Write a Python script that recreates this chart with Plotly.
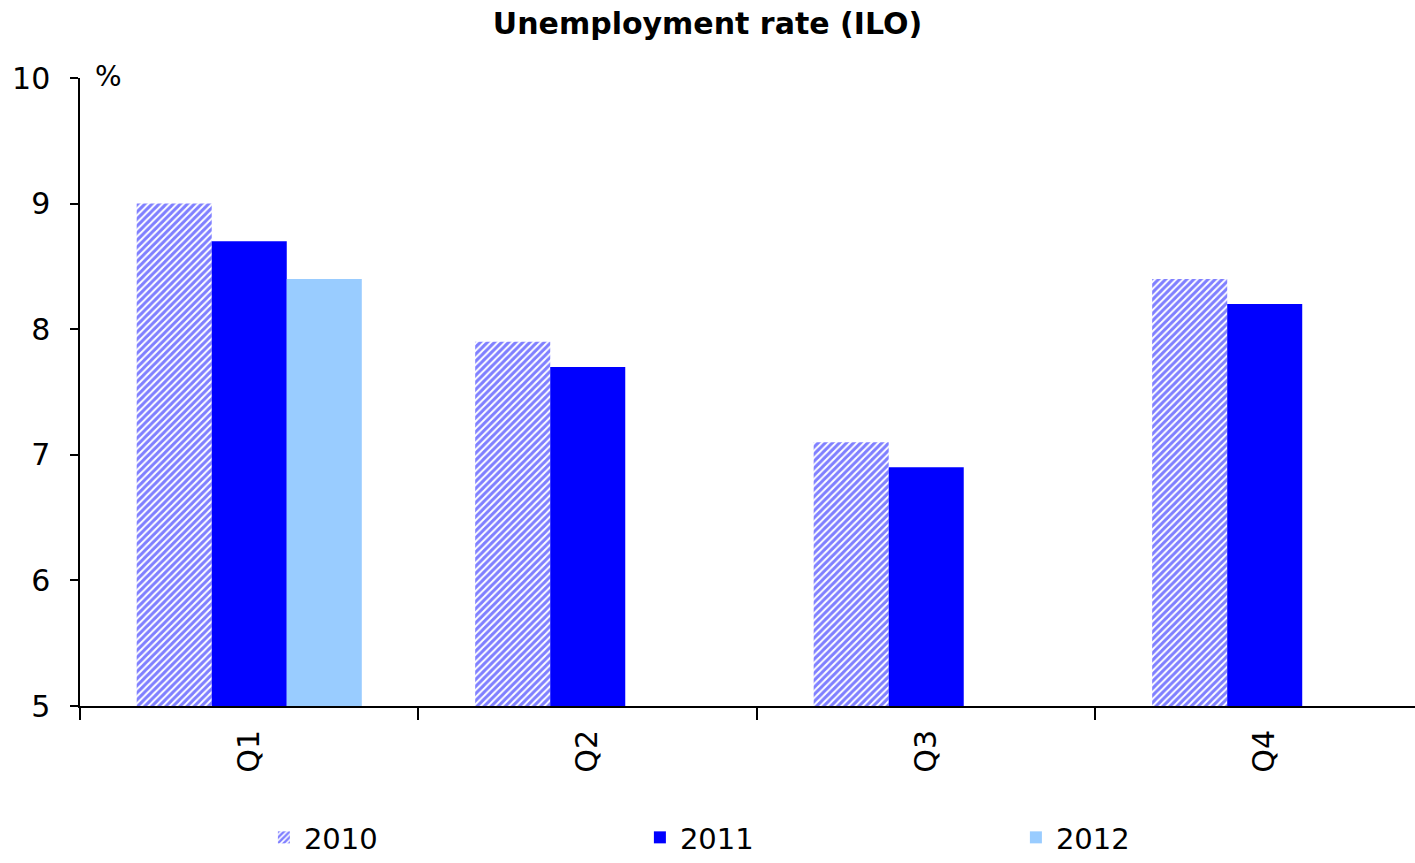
import plotly.graph_objects as go

quarters = ["Q1", "Q2", "Q3", "Q4"]
years = ["2010", "2011", "2012"]
v2010 = [9.0, 7.9, 7.1, 8.4]
v2011 = [8.7, 7.7, 6.9, 8.2]
v2012 = [8.4, None, None, None]

xpos = list(range(len(quarters)))
FONT = "DejaVu Sans"

fig = go.Figure()
fig.add_trace(go.Bar(
    x=xpos, y=v2010, name=years[0],
    marker=dict(color="white", line=dict(width=0),
                pattern=dict(shape="/", fgcolor="#0000ff", bgcolor="white", size=5, solidity=0.6)),
))
fig.add_trace(go.Bar(
    x=xpos, y=v2011, name=years[1],
    marker=dict(color="#0000ff", line=dict(width=0)),
))
fig.add_trace(go.Bar(
    x=xpos, y=v2012, name=years[2],
    marker=dict(color="#99ccff", line=dict(width=0)),
))

fig.update_layout(
    width=1415, height=863,
    margin=dict(l=80, r=0, t=78, b=157),
    paper_bgcolor="white", plot_bgcolor="white",
    barmode="group", bargap=0.335, bargroupgap=0,
    font=dict(family=FONT, size=30, color="black"),
    title=dict(text="<b>Unemployment rate (ILO)</b>", x=0.5, xanchor="center",
               y=0.973, yanchor="middle", font=dict(family=FONT, size=30, color="black")),
    showlegend=True,
    legend=dict(orientation="h", xref="container", x=0.1865, xanchor="left",
                yref="container", y=0.0, yanchor="bottom",
                bgcolor="rgba(0,0,0,0)",
                font=dict(family=FONT, size=29, color="black"),
                entrywidth=331, entrywidthmode="pixels",
                itemwidth=30, traceorder="normal"),
    xaxis=dict(range=[-0.5, 3.444], tickmode="array", tickvals=xpos, ticktext=quarters,
               tickangle=-90, showline=True, linecolor="black", linewidth=2,
               ticks="", showgrid=False, zeroline=False, ticklabelstandoff=10,
               tickfont=dict(family=FONT, size=30, color="black")),
    yaxis=dict(range=[5, 10], dtick=1, tick0=5, showline=True, linecolor="black", linewidth=1.5,
               ticks="outside", ticklen=8, tickwidth=1.5, tickcolor="black",
               showgrid=False, zeroline=False, ticklabelstandoff=14,
               tickfont=dict(family=FONT, size=30, color="black")),
    annotations=[dict(text="%", xref="paper", yref="paper", x=0.0, y=1.0,
                      xshift=13, yshift=2, xanchor="left", yanchor="middle", showarrow=False,
                      font=dict(family=FONT, size=28, color="black"))],
)

# category boundary ticks on the x axis (minor ticks at half positions)
fig.update_xaxes(minor=dict(tickmode="array", tickvals=[-0.5, 0.5, 1.5, 2.5],
                            ticks="outside", ticklen=12, tickwidth=1.5, tickcolor="black"))

fig.write_html("out.html")
